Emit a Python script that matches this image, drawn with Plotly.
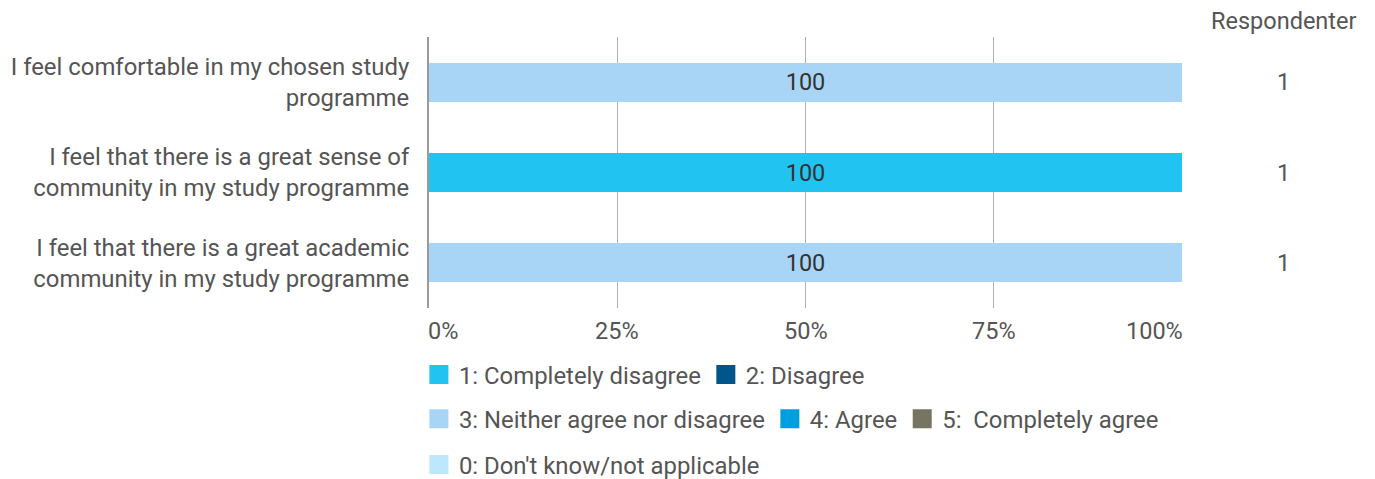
import plotly.graph_objects as go

categories = [
    "I feel comfortable in my chosen study<br>programme",
    "I feel that there is a great sense of<br>community in my study programme",
    "I feel that there is a great academic<br>community in my study programme",
]
series_names = [
    "1: Completely disagree",
    "2: Disagree",
    "3: Neither agree nor disagree",
    "4: Agree",
    "5:  Completely agree",
    "0: Don't know/not applicable",
]
series_values = [
    [0, 100, 0],
    [0, 0, 0],
    [100, 0, 100],
    [0, 0, 0],
    [0, 0, 0],
    [0, 0, 0],
]
series_colors = ["#21c4f1", "#00558a", "#a8d5f5", "#009fe0", "#777562", "#bde7fa"]
respondents = [1, 1, 1]
tick_vals = [0, 25, 50, 75, 100]
tick_text = ["0%", "25%", "50%", "75%", "100%"]
tick_anchor = ["left", "center", "center", "center", "right"]

legend_of = ["legend", "legend", "legend2", "legend2", "legend2", "legend3"]

FONT = "Roboto, 'Noto Sans', sans-serif"
TXT = "#555555"
FS = 23.9

fig = go.Figure()
for name, vals, col in zip(series_names, series_values, series_colors):
    fig.add_trace(go.Bar(
        y=categories, x=vals, name=name, orientation="h",
        marker=dict(color=col, line=dict(width=0)),
        text=[str(v) if v else "" for v in vals],
        textposition="inside", insidetextanchor="middle",
        textfont=dict(color="#333333", size=23.5, family=FONT),
        showlegend=False, hoverinfo="skip",
    ))
# legend entries
for name, col, lg in zip(series_names, series_colors, legend_of):
    fig.add_trace(go.Scatter(
        x=[None], y=[None], mode="markers", name=name,
        marker=dict(symbol="square", size=16, color=col, line=dict(color=col, width=3)),
        legend=lg, hoverinfo="skip",
    ))

annotations = [dict(
    text="Respondenter", xref="paper", yref="paper", x=1.1345, y=1.058,
    showarrow=False, font=dict(size=23.5, color=TXT, family=FONT),
    xanchor="center", yanchor="middle",
)]
for c, r in zip(categories, respondents):
    annotations.append(dict(
        text=str(r), xref="paper", yref="y", x=1.1345, y=c,
        showarrow=False, font=dict(size=23.5, color=TXT, family=FONT),
        xanchor="center", yanchor="middle",
    ))
for v, t, a in zip(tick_vals, tick_text, tick_anchor):
    annotations.append(dict(
        text=t, xref="x", yref="paper", x=v, y=-0.085,
        showarrow=False, font=dict(size=23.5, color=TXT, family=FONT),
        xanchor=a, yanchor="middle", xshift=(-3 if a == "left" else (3 if a == "right" else 0)),
    ))

leg_common = dict(
    orientation="h", x=-0.0134, xanchor="left", yanchor="middle",
    font=dict(size=FS, color=TXT, family=FONT), bgcolor="rgba(0,0,0,0)",
    traceorder="normal", itemsizing="trace",
)

fig.update_layout(
    template="none",
    barmode="stack",
    bargap=0.57,
    width=1367, height=471,
    margin=dict(l=421, r=193, t=29, b=171, autoexpand=False),
    paper_bgcolor="white", plot_bgcolor="white",
    font=dict(family=FONT, color=TXT, size=FS),
    xaxis=dict(
        range=[0, 100], tickvals=tick_vals, showticklabels=False, ticks="",
        showgrid=True, gridcolor="#b0b0b0", gridwidth=1, zeroline=False,
        showline=False, automargin=False, fixedrange=True,
    ),
    yaxis=dict(
        autorange="reversed", showline=True, linecolor="#9a9a9a", linewidth=2,
        ticks="", ticklabelstandoff=13, showgrid=False, zeroline=False,
        tickfont=dict(size=FS, color=TXT, family=FONT), automargin=False,
    ),
    legend=dict(y=-0.247, **leg_common),
    legend2=dict(y=-0.41, **leg_common),
    legend3=dict(y=-0.579, **leg_common),
    annotations=annotations,
    showlegend=True,
)

fig.write_html("out.html")
